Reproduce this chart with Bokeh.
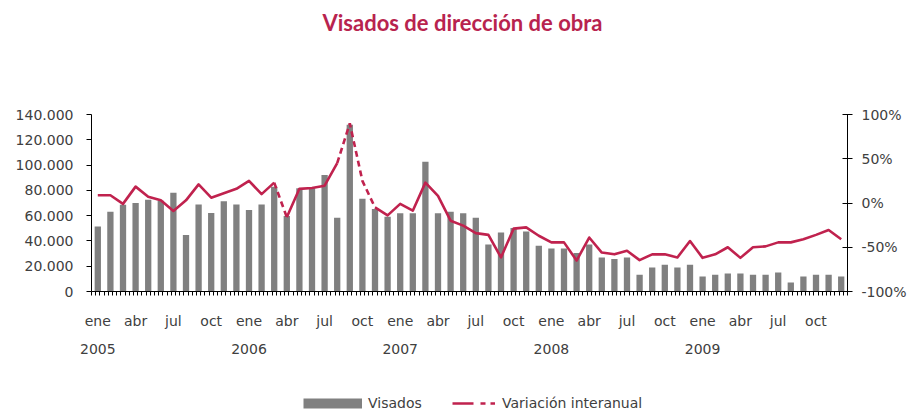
from bokeh.plotting import figure
from bokeh.layouts import column
from bokeh.models import (Range1d, LinearAxis, FixedTicker, Legend, LegendItem,
                          NumeralTickFormatter, Label)
from bokeh.embed import file_html
from bokeh.resources import INLINE

# ---------------- data ----------------
titulo = "Visados de dirección de obra"
anios = ["2005", "2006", "2007", "2008", "2009"]
meses_etiqueta = ["ene", "abr", "jul", "oct"]

visados = [51500, 63100, 68700, 70000, 72600, 71800, 78200, 44700, 68900, 62100, 71300, 68900,
           64500, 68900, 82900, 59700, 81600, 81600, 92200, 58400, 131800, 73400, 65200, 59200,
           61800, 61800, 102700, 61800, 63100, 61800, 58400, 37200, 46700, 50200, 47500, 36200,
           34100, 34100, 30400, 37200, 26900, 25700, 26900, 13200, 19000, 21100, 19000, 21100,
           11900, 13200, 14300, 14300, 13200, 13200, 15000, 7100, 11900, 13200, 13200, 11900]

variacion = [8.7, 8.7, -1, 18.5, 7, 3, -9, 3, 21, 6, 11, 16,
             25, 10, 23, -16, 16, 17, 19.6, 45, 90, 25, -5, -14,
             -1, -8.7, 23, 8, -20, -25.6, -34, -36, -61.5, -29, -27.5, -37,
             -44.5, -44.5, -65, -39, -56, -58, -54, -64.5, -58, -58, -61.5, -43,
             -62, -58, -50, -62, -50, -49, -44.5, -44.5, -41, -36, -30.5, -41]

ticks_visados = [0, 20000, 40000, 60000, 80000, 100000, 120000, 140000]
ticks_pct = [-1.0, -0.5, 0.0, 0.5, 1.0]

# segments of the line drawn solid / dashed (index ranges)
tramos_continuos = [(0, 14), (15, 19), (22, 59)]
tramos_discontinuos = [(14, 15), (19, 22)]

# ---------------- styling ----------------
GRIS = "#808080"
ROJO = "#C0224E"
TEXTO = "#404040"
FUENTE = "DejaVu Sans"
TAM = "14px"

n = len(visados)
xs = list(range(n))
var_frac = [v / 100.0 for v in variacion]
x_rng = Range1d(-0.5, n - 0.5)

# ---------------- title strip ----------------
pt = figure(width=912, height=44, x_range=x_rng, y_range=Range1d(0, 1),
            x_axis_type=None, y_axis_type=None, output_backend="svg", toolbar_location=None,
            min_border_top=0, min_border_bottom=0, min_border_left=91, min_border_right=65)
pt.outline_line_color = None
pt.add_layout(Label(x=(n - 1) / 2, y=0.5, x_offset=-7, text=titulo, text_align="center",
                    text_baseline="middle", text_font="Lato", text_font_style="bold",
                    text_font_size="22px", text_color="#B8234E"))

# ---------------- main chart ----------------
p = figure(width=912, height=336, x_range=x_rng, y_range=Range1d(0, 140000),
           x_axis_type=None, y_axis_type=None, output_backend="svg", toolbar_location=None,
           min_border_left=91, min_border_right=65, min_border_top=70, min_border_bottom=89)
p.extra_y_ranges = {"pct": Range1d(-1, 1)}
p.outline_line_color = None
p.background_fill_color = "white"
p.border_fill_color = "white"

# bars
p.vbar(x=xs, top=visados, width=0.5, fill_color=GRIS, line_color=None)

# line
p.multi_line(xs=[xs[a:b + 1] for a, b in tramos_continuos],
             ys=[var_frac[a:b + 1] for a, b in tramos_continuos],
             y_range_name="pct", line_color=ROJO, line_width=2.6, line_join="round")
p.multi_line(xs=[xs[a:b + 1] for a, b in tramos_discontinuos],
             ys=[var_frac[a:b + 1] for a, b in tramos_discontinuos],
             y_range_name="pct", line_color=ROJO, line_width=2.6, line_dash="6 4")

# left axis
ax_l = LinearAxis(ticker=FixedTicker(ticks=ticks_visados))
ax_l.major_label_overrides = {t: f"{t:,}".replace(",", ".") for t in ticks_visados}
ax_l.major_tick_out = 5
ax_l.major_tick_in = 0
ax_l.minor_tick_line_color = None
ax_l.major_label_standoff = 13
ax_l.axis_line_color = "black"
ax_l.major_tick_line_color = "black"
ax_l.major_label_text_font = FUENTE
ax_l.major_label_text_font_size = TAM
ax_l.major_label_text_color = TEXTO
p.add_layout(ax_l, "left")

# right axis
ax_r = LinearAxis(y_range_name="pct", ticker=FixedTicker(ticks=ticks_pct),
                  formatter=NumeralTickFormatter(format="0%"))
ax_r.major_tick_out = 5
ax_r.major_tick_in = 5
ax_r.minor_tick_line_color = None
ax_r.major_label_standoff = 9
ax_r.axis_line_color = "black"
ax_r.major_tick_line_color = "black"
ax_r.major_label_text_font = FUENTE
ax_r.major_label_text_font_size = TAM
ax_r.major_label_text_color = TEXTO
p.add_layout(ax_r, "right")

# bottom axis: months
pos_meses = [i for i in xs if i % 3 == 0]
minor = [-0.5 + k / 3.0 for k in range(3 * n + 1)]
ax_m = LinearAxis(ticker=FixedTicker(ticks=pos_meses, minor_ticks=minor))
ax_m.major_label_overrides = {i: meses_etiqueta[(i % 12) // 3] for i in pos_meses}
ax_m.major_tick_line_color = None
ax_m.major_tick_out = 0
ax_m.major_tick_in = 0
ax_m.minor_tick_out = 4
ax_m.minor_tick_in = 0
ax_m.minor_tick_line_color = "black"
ax_m.axis_line_color = "black"
ax_m.major_label_standoff = 17
ax_m.major_label_text_font = FUENTE
ax_m.major_label_text_font_size = TAM
ax_m.major_label_text_color = TEXTO
p.add_layout(ax_m, "below")

# bottom axis: years
pos_anios = [i for i in xs if i % 12 == 0]
ax_y = LinearAxis(ticker=FixedTicker(ticks=pos_anios, minor_ticks=[]))
ax_y.major_label_overrides = {i: anios[i // 12] for i in pos_anios}
ax_y.axis_line_color = None
ax_y.major_tick_line_color = None
ax_y.minor_tick_line_color = None
ax_y.major_tick_out = 0
ax_y.major_label_standoff = 12
ax_y.major_label_text_font = FUENTE
ax_y.major_label_text_font_size = TAM
ax_y.major_label_text_color = TEXTO
p.add_layout(ax_y, "below")

# ---------------- legend strip ----------------
# series re-plotted far outside the visible range: only their legend glyphs show
pl = figure(width=912, height=32, x_range=x_rng, y_range=Range1d(5, 6),
            x_axis_type=None, y_axis_type=None, output_backend="svg", toolbar_location=None,
            min_border_top=0, min_border_bottom=0, min_border_left=91, min_border_right=65)
pl.outline_line_color = None
pl.background_fill_color = "white"
pl.border_fill_color = "white"

lg_bar = pl.line(x=xs, y=var_frac, line_color=GRIS, line_width=10)
lg_lin = pl.line(x=xs, y=var_frac, line_color=ROJO, line_width=2.6, line_dash="21 7 5 5 5 7")


def mk_legend(item, loc, gw, standoff):
    return Legend(items=[item], location=loc, orientation="horizontal",
                  glyph_width=gw, glyph_height=12, label_standoff=standoff,
                  padding=0, margin=0, spacing=0, border_line_color=None,
                  background_fill_alpha=0, label_text_font=FUENTE,
                  label_text_font_size="14px", label_text_color=TEXTO,
                  label_height=16)


pl.add_layout(mk_legend(LegendItem(label="Visados", renderers=[lg_bar]), (212, 1), 59, 6), "center")
pl.add_layout(mk_legend(LegendItem(label="Variación interanual", renderers=[lg_lin]), (361, 1), 43, 7), "center")

open("out.html", "w").write(file_html(column(pt, p, pl), INLINE))
